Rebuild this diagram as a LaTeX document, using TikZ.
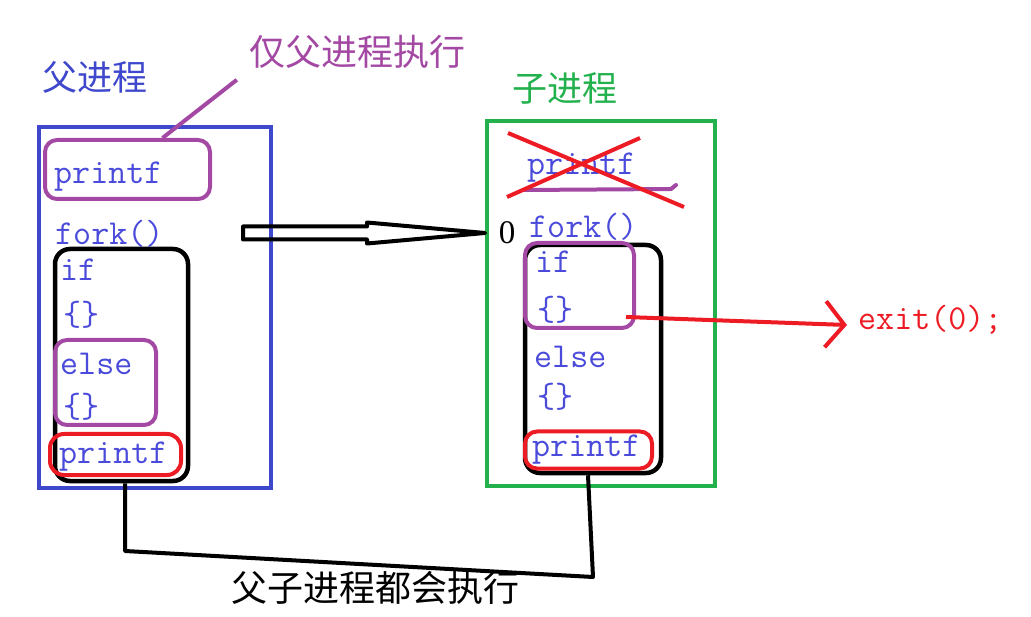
\documentclass[tikz,border=0pt]{standalone}
\usepackage{fontspec}
\usepackage{tikz}
\usetikzlibrary{arrows.meta,positioning,calc}
\newfontfamily\cjkfont{Noto Sans CJK SC}
\newfontfamily\digitfont{Liberation Serif}
\definecolor{parentblue}{HTML}{3F48CC}
\definecolor{childgreen}{HTML}{22B14C}
\definecolor{markred}{HTML}{ED1C24}
\definecolor{markpurple}{HTML}{A349A4}
\definecolor{codeblue}{HTML}{4B4BDB}
\tikzset{
  code/.style={anchor=west,inner sep=0pt,text=codeblue,
    font=\fontsize{35}{38}\selectfont\ttfamily},
  title/.style={inner sep=0pt,text=#1,font=\fontsize{35}{40}\selectfont\cjkfont},
  title/.default={black},
  proc/.style={rectangle,draw=#1,line width=4pt,inner sep=0pt},
  ring/.style={rectangle,rounded corners=12pt,draw=#1,line width=4pt,inner sep=0pt},
  block/.style={rectangle,rounded corners=15pt,draw=black,line width=4.5pt,inner sep=0pt},
  link/.style={draw=black,line width=4pt,line join=round},
  hollow/.style={draw=black,line width=4pt,line join=round},
  redarr/.style={-{Straight Barb[length=19pt,width=46pt]},draw=markred,line width=4pt},
  cross/.style={draw=markred,line width=4pt},
}

\begin{document}
\begin{tikzpicture}[x=1pt,y=-1pt]
  \useasboundingbox (0,0) rectangle (1031,617);
  % parent process
  \node[title=parentblue] (ptitle) at (95,77) {父进程};
  \node[title=markpurple,font=\fontsize{36}{40}\selectfont\cjkfont] (onlyparent) at (357,52) {仅父进程执行};
  \node[proc=parentblue,minimum width=232pt,minimum height=361pt] (parent) at (155,307.5) {};
  \node[block,minimum width=133pt,minimum height=232pt] (pblock) at (121.5,365) {};
  \node[ring=markpurple,minimum width=165pt,minimum height=59pt] (pprintfring) at (127.5,169.5) {};
  \node[ring=markpurple,minimum width=101pt,minimum height=85pt] (pelsering) at (105.5,382.5) {};
  \node[ring=markred,minimum width=131pt,minimum height=41pt,rounded corners=14pt] (plastring) at (115.5,454.5) {};
  \node[code] (pprintf) at (54,177) {printf};
  \node[code] (pfork) at (55,234) {fork()};
  \node[code] (pif) at (60,270) {if};
  \node[code] (pifbody) at (63,315) {\{\}};
  \node[code] (pelse) at (60,364) {else};
  \node[code] (pelsebody) at (63,407) {\{\}};
  \node[code] (plast) at (59,457) {printf};
  \draw[markpurple,line width=4pt] ($(pprintfring.north)+(35,0)$) -- ($(onlyparent.south west)+(-12,11)$);
  % child process
  \node[title=childgreen] (ctitle) at (565,88) {子进程};
  \node[proc=childgreen,minimum width=228pt,minimum height=365pt] (child) at (601,303.5) {};
  \node[block,minimum width=136pt,minimum height=228pt] (cblock) at (593,359) {};
  \node[ring=markpurple,minimum width=109pt,minimum height=85pt] (cifring) at (579.5,285.5) {};
  \node[ring=markred,minimum width=127pt,minimum height=37pt] (clastring) at (588.5,450) {};
  \node[code] (cprintf) at (527,168) {printf};
  \node[code] (cfork) at (529,227) {fork()};
  \node[code] (cif) at (535,262) {if};
  \node[code] (cifbody) at (537,310) {\{\}};
  \node[code] (celse) at (534,357) {else};
  \node[code] (celsebody) at (537,397) {\{\}};
  \node[code] (clast) at (532,450) {printf};
  \node[inner sep=0pt,font=\fontsize{33}{36}\selectfont\digitfont] (zero) at (507,233) {0};
  \draw[markpurple,line width=4pt,line cap=round] ($(cprintf.west)+(-4,22)$) -- ($(cprintf.west)+(144,21)$) -- ++(5,-4);
  \draw[cross] ($(cprintf.west)+(-19,-35)$) -- ($(cprintf.west)+(157,39)$);
  \draw[cross] ($(cprintf.west)+(113,-30)$) -- ($(cprintf.west)+(-20,29)$);
  % fork arrow
  \coordinate (tail) at (243,233);
  \coordinate (tip) at (child.west |- tail);
  \draw[hollow] ($(tail)+(0,-6.5)$) -- ($(tip)+(-118,-6.5)$) -- ($(tip)+(-118,-10.5)$) -- (tip)
    -- ($(tip)+(-118,10.5)$) -- ($(tip)+(-118,6.5)$) -- ($(tail)+(0,6.5)$) -- cycle;
  % exit
  \node[code,text=markred] (exit) at (858,320) {exit(0);};
  \draw[redarr] ($(cifring.south east)+(-10,-13)$) -- ($(exit.west)+(-11,5)$);
  % shared tail
  \node[title,font=\fontsize{36}{40}\selectfont\cjkfont] (both) at (375,588) {父子进程都会执行};
  \coordinate (joinl) at (125,551);
  \coordinate (joinr) at (593,577);
  \draw[link] ($(pblock.south)+(3.5,0)$) -- (joinl) -- (joinr) -- ($(cblock.south)+(-5,0)$);
\end{tikzpicture}
\end{document}
